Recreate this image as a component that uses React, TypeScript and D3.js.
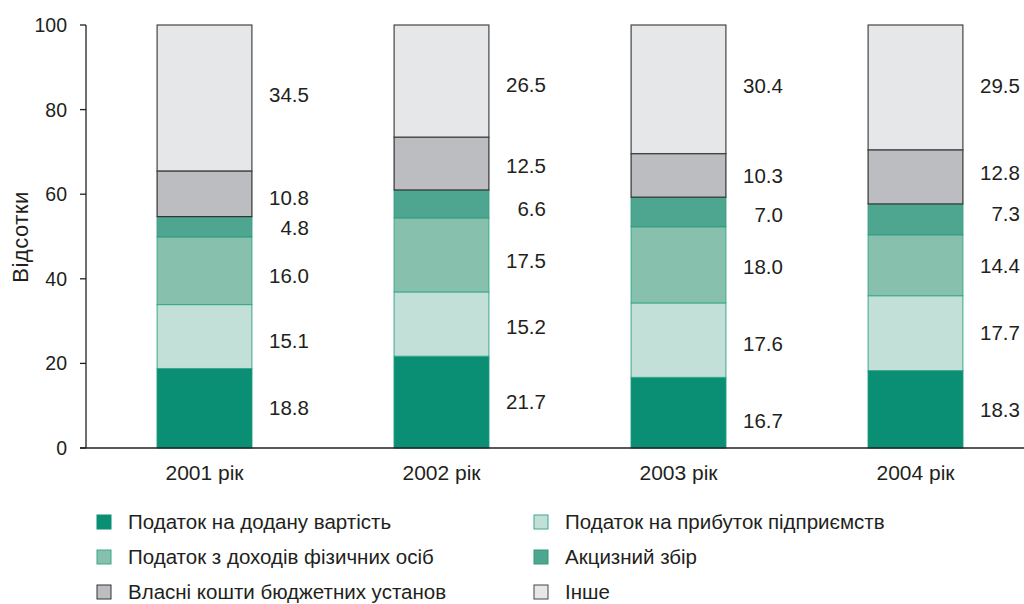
import React from "react";
import * as d3 from "d3";

const years = ["2001 рік", "2002 рік", "2003 рік", "2004 рік"];
const seriesNames = [
  "Податок на додану вартість",
  "Податок на прибуток підприємств",
  "Податок з доходів фізичних осіб",
  "Акцизний збір",
  "Власні кошти бюджетних установ",
  "Інше",
];
const vat = [18.8, 21.7, 16.7, 18.3];
const profitTax = [15.1, 15.2, 17.6, 17.7];
const personalTax = [16.0, 17.5, 18.0, 14.4];
const excise = [4.8, 6.6, 7.0, 7.3];
const ownFunds = [10.8, 12.5, 10.3, 12.8];
const other = [34.5, 26.5, 30.4, 29.5];
const yTicks = [0, 20, 40, 60, 80, 100];
// label anchor heights (in percent units) as placed in the original figure
const labelAnchors = [
  [9.5, 25.3, 40.7, 52.0, 59.3, 83.5],
  [10.9, 28.6, 44.2, 56.7, 66.7, 85.8],
  [6.4, 24.6, 42.8, 55.1, 64.3, 85.6],
  [9.0, 27.2, 43.0, 55.3, 65.0, 85.6],
];

const fills = ["#0a8f74", "#c3e0d8", "#88c0ae", "#4ea690", "#bcbdc1", "#e6e7e9"];
const strokes = ["#0a8f74", "#3aa88a", "#3aa88a", "#2f9a7e", "#333333", "#444444"];

export default function App() {
  const W = 1024, H = 604;
  const fontA = "'Liberation Sans', Arial, sans-serif";
  const series = [vat, profitTax, personalTax, excise, ownFunds, other];
  const rows = years.map((y, i) => {
    const r: any = { year: y };
    seriesNames.forEach((n, k) => (r[n] = series[k][i]));
    return r;
  });
  const stacked = d3.stack<any>().keys(seriesNames)(rows);
  const x = d3.scaleBand().domain(years).range([86, 1034]).paddingInner(0.6).paddingOuter(0.3);
  const y = d3.scaleLinear().domain([0, 100]).range([448, 25]);
  const bw = x.bandwidth();

  const legendCols = [97, 534];
  const legendRows = [522, 557, 592];

  return (
    <svg width={W} height={H} style={{ position: "absolute", left: 0, top: 0, background: "#fff" }} fontFamily={fontA}>
      {/* bars */}
      {stacked.map((s, k) =>
        s.map((d, i) => (
          <rect
            key={`${k}-${i}`}
            x={(x(years[i]) as number)}
            y={y(d[1])}
            width={bw}
            height={y(d[0]) - y(d[1])}
            fill={fills[k]}
            stroke={strokes[k]}
            strokeWidth={k >= 4 ? 1.2 : 1}
          />
        ))
      )}
      {/* value labels */}
      {years.map((yr, i) =>
        series.map((s, k) => (
          <text
            key={`l-${i}-${k}`}
            x={(x(yr) as number) + bw + 57}
            y={y(labelAnchors[i][k])}
            dy="0.36em"
            textAnchor="end"
            fontSize={20.5}
            fill="#231f20"
          >
            {s[i].toFixed(1)}
          </text>
        ))
      )}
      {/* axes */}
      <line x1={86} x2={86} y1={25} y2={448} stroke="#231f20" strokeWidth={1.3} />
      <line x1={80} x2={1024} y1={448} y2={448} stroke="#231f20" strokeWidth={1.3} />
      {yTicks.map((t) => (
        <g key={t}>
          <line x1={80} x2={86} y1={y(t)} y2={y(t)} stroke="#231f20" strokeWidth={1.3} />
          <text x={67} y={y(t)} dy="0.36em" textAnchor="end" fontSize={19.5} fill="#231f20">
            {t}
          </text>
        </g>
      ))}
      {years.map((yr) => (
        <text
          key={yr}
          x={(x(yr) as number) + bw / 2}
          y={472}
          dy="0.36em"
          textAnchor="middle"
          fontSize={21}
          fill="#231f20"
        >
          {yr}
        </text>
      ))}
      <text
        transform={`translate(20,237) rotate(-90)`}
        textAnchor="middle"
        dy="0.36em"
        fontSize={22}
        letterSpacing={0.5}
        fill="#231f20"
      >
        Відсотки
      </text>
      {/* legend */}
      {seriesNames.map((n, k) => {
        const col = k % 2;
        const row = Math.floor(k / 2);
        const lx = legendCols[col];
        const ly = legendRows[row];
        return (
          <g key={n}>
            <rect x={lx} y={ly - 7} width={14} height={14} fill={fills[k]} stroke={strokes[k]} strokeWidth={1} />
            <text x={lx + 31} y={ly} dy="0.36em" fontSize={20.5} fill="#231f20">
              {n}
            </text>
          </g>
        );
      })}
    </svg>
  );
}
